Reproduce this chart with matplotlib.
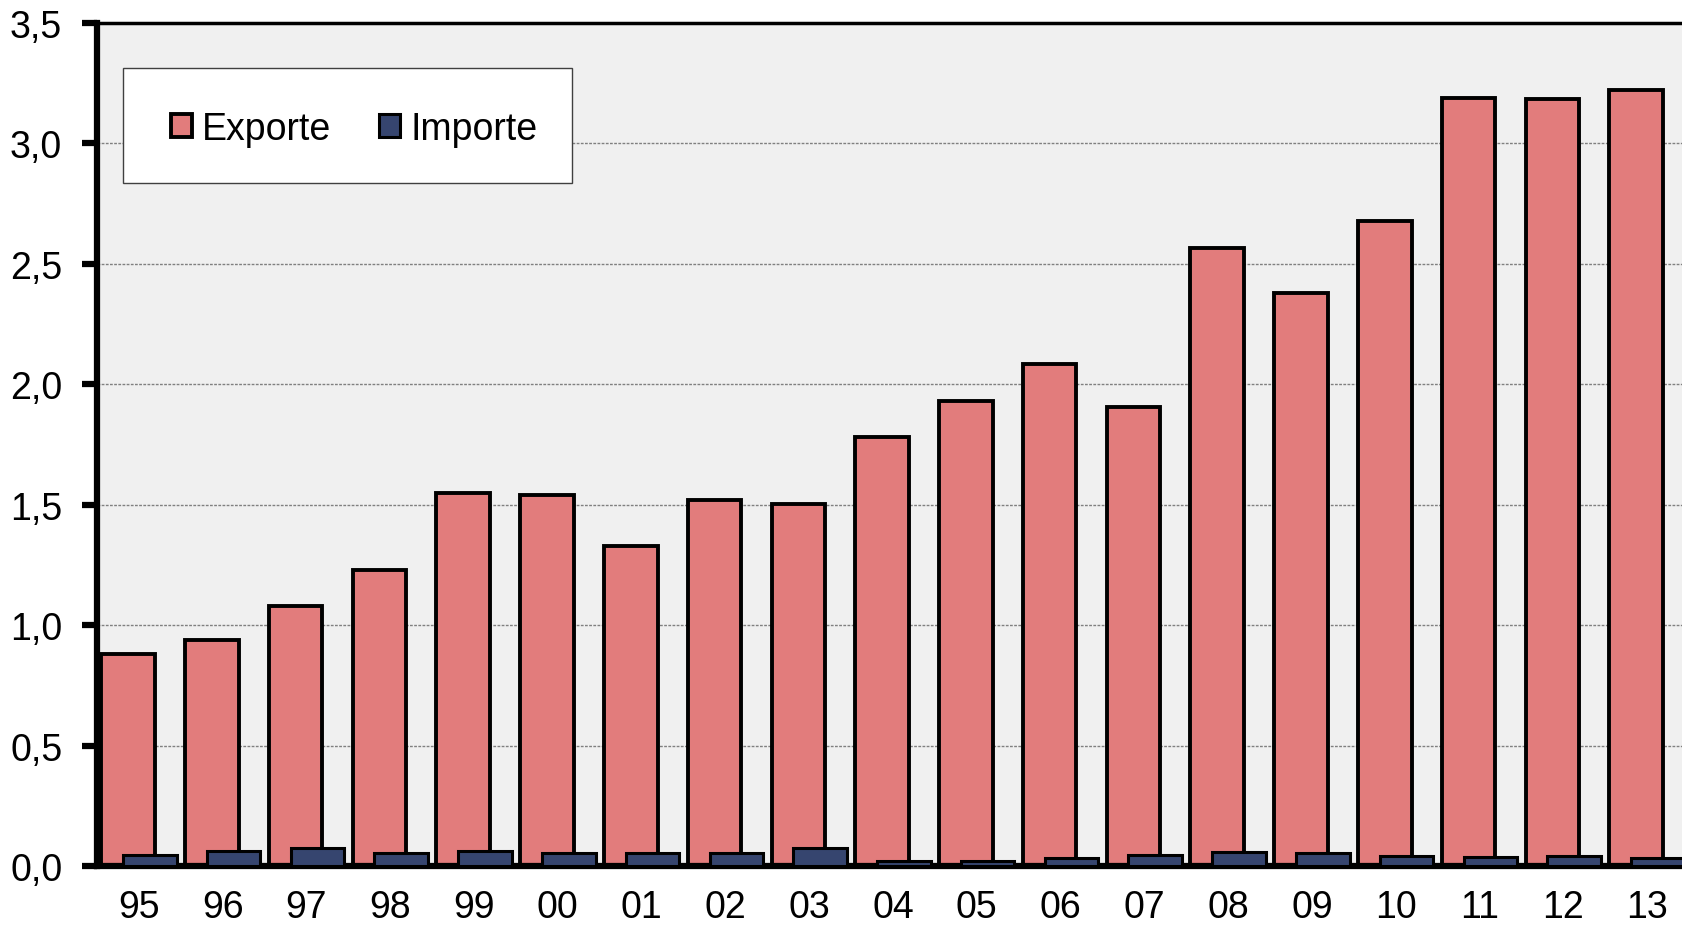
import matplotlib.pyplot as plt
from matplotlib.patches import Rectangle
import numpy as np

# Data
years = ['95', '96', '97', '98', '99', '00', '01', '02', '03', '04',
         '05', '06', '07', '08', '09', '10', '11', '12', '13']
exporte = [0.88, 0.94, 1.08, 1.23, 1.55, 1.54, 1.33, 1.52, 1.505, 1.78,
           1.93, 2.085, 1.905, 2.565, 2.38, 2.68, 3.19, 3.185, 3.22]
importe = [0.046, 0.062, 0.073, 0.054, 0.062, 0.055, 0.055, 0.055, 0.075, 0.02,
           0.02, 0.035, 0.045, 0.06, 0.055, 0.043, 0.039, 0.04, 0.035]

plt.rcParams['font.family'] = ['Liberation Sans', 'DejaVu Sans']

W, H = 1683, 928
fig = plt.figure(figsize=(W / 100, H / 100), dpi=100)
ax = fig.add_axes([97 / W, 61 / H, (1689 - 97) / W, (867 - 24) / H])
ax.set_facecolor('#F0F0F0')

x = np.arange(len(years))
bw = 0.64
ax.bar(x - 0.13, exporte, bw, color='#E27C7C', edgecolor='black', linewidth=2.8,
       label='Exporte', zorder=2)
ax.bar(x + 0.13, importe, bw, color='#36456F', edgecolor='black', linewidth=2.2,
       label='Importe', zorder=3)

ax.set_xlim(-0.5, len(years) - 0.5)
ax.set_ylim(0, 3.5)
ax.set_yticks(np.arange(0, 3.51, 0.5))
ax.set_yticklabels([f'{v:.1f}'.replace('.', ',') for v in np.arange(0, 3.51, 0.5)])
ax.set_xticks(x)
ax.set_xticklabels(years)

ax.yaxis.grid(True, color='#808080', linestyle=(0, (2, 1)), linewidth=1.0, zorder=1)
ax.set_axisbelow(True)

for side in ['left', 'bottom']:
    ax.spines[side].set_linewidth(4.5)
ax.spines['top'].set_linewidth(2.5)
ax.spines['right'].set_visible(False)

ax.tick_params(axis='y', length=11, width=4.5, labelsize=27, pad=14)
ax.tick_params(axis='x', length=0, labelsize=27, pad=16.5)

# legend box (white, thin border) with the entries placed inside it
fig.patches.append(Rectangle((123 / W, 1 - 184 / H), 449 / W, 115 / H,
                             transform=fig.transFigure, facecolor='white',
                             edgecolor='#404040', linewidth=1.0, zorder=4))
handles, labels = ax.get_legend_handles_labels()
fig.legend(handles, labels, loc='center left', bbox_to_anchor=(171 / W, 1 - 130 / H),
           ncol=2, fontsize=27, frameon=False,
           handlelength=0.56, handleheight=0.56, handletextpad=0.27,
           columnspacing=1.28, borderpad=0, borderaxespad=0)

fig.savefig('out.png', dpi=100)
